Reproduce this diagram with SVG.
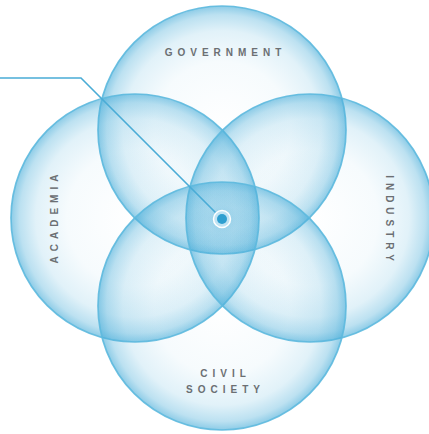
<svg xmlns="http://www.w3.org/2000/svg" width="429" height="434" viewBox="0 0 429 434">
<defs>
<radialGradient id="bubble" cx="0.5" cy="0.5" r="0.5">
<stop offset="0" stop-color="#4fb0da" stop-opacity="0"/>
<stop offset="0.55" stop-color="#4fb0da" stop-opacity="0.05"/>
<stop offset="0.8" stop-color="#4fb0da" stop-opacity="0.17"/>
<stop offset="0.93" stop-color="#4fb0da" stop-opacity="0.38"/>
<stop offset="1" stop-color="#4fb0da" stop-opacity="0.65"/>
</radialGradient>
<radialGradient id="glow" cx="0.5" cy="0.5" r="0.5">
<stop offset="0" stop-color="#4fb0da" stop-opacity="0.35"/>
<stop offset="0.4" stop-color="#4fb0da" stop-opacity="0.15"/>
<stop offset="1" stop-color="#4fb0da" stop-opacity="0"/>
</radialGradient>
<style>
.circle{fill:url(#bubble);stroke:#5db9de;stroke-width:1.7;stroke-opacity:0.9}
.label{font-family:"Liberation Sans",Arial,sans-serif;font-size:10px;font-weight:bold;letter-spacing:5px;fill:#6b6f73;text-anchor:middle}
.leader{fill:none;stroke:#4aacd6;stroke-width:1.6}
</style>
</defs>
<rect width="429" height="434" fill="#ffffff"/>
<g id="node-government">
<circle class="circle" cx="222" cy="130" r="124"/>
<text class="label" x="225.5" y="56">GOVERNMENT</text>
</g>
<g id="node-academia">
<circle class="circle" cx="135" cy="218" r="124"/>
<text class="label" transform="translate(58,219) rotate(-90)" x="2.5" y="0">ACADEMIA</text>
</g>
<g id="node-industry">
<circle class="circle" cx="310" cy="218" r="124"/>
<text class="label" transform="translate(386,218) rotate(90)" x="2.5" y="0">INDUSTRY</text>
</g>
<g id="node-civil-society">
<circle class="circle" cx="222" cy="306" r="124"/>
<text class="label" x="225.5" y="377">CIVIL</text>
<text class="label" x="225.5" y="393">SOCIETY</text>
</g>
<g id="center">
<circle cx="222" cy="219" r="38" fill="url(#glow)"/>
</g>
<g id="connectors">
<polyline class="leader" points="0,78 81,78 218,215"/>
<circle cx="222" cy="219" r="8.5" fill="#bfe3f3" stroke="#ffffff" stroke-width="1.5"/>
<circle cx="222" cy="219" r="5" fill="#2f9fd0"/>
</g>
</svg>
